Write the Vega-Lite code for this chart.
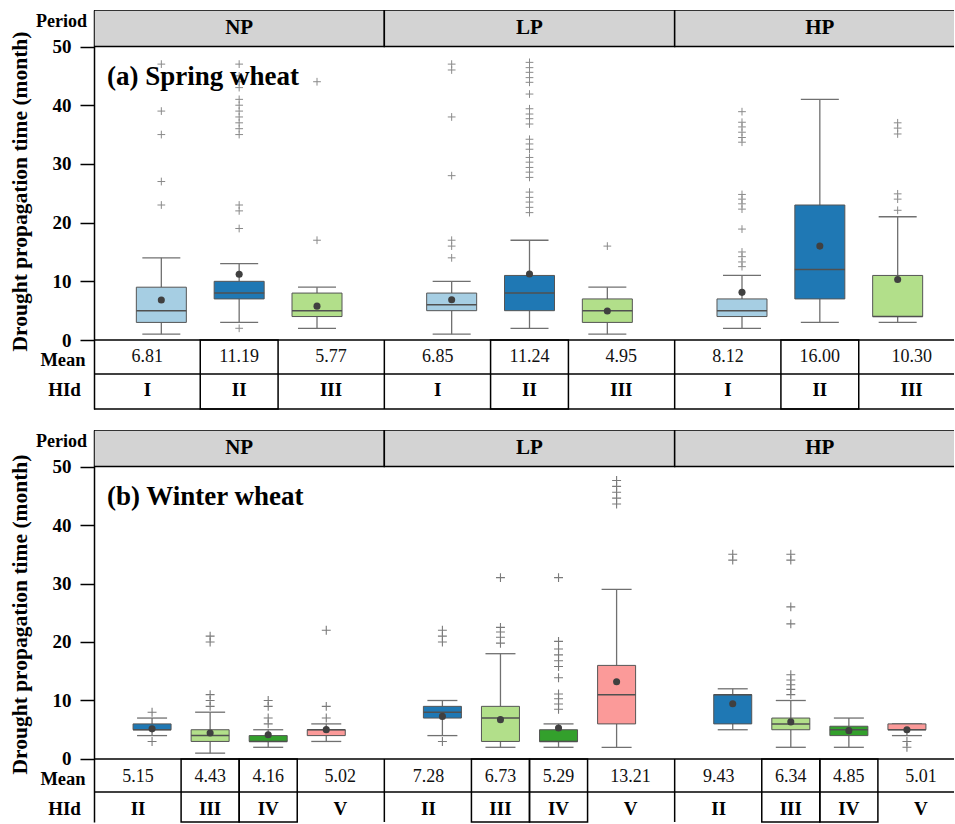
{
"$schema":"https://vega.github.io/schema/vega-lite/v6.json",
"padding":{"left":8,"top":10,"right":0,"bottom":0},
"config":{"view":{"stroke":null},"font":"Liberation Serif"},
"datasets":{
"periods":[{"Period":"NP"},{"Period":"LP"},{"Period":"HP"}],
"rowlabels":[{"row":"Period"},{"row":"Mean"},{"row":"HId"}],
"boxes":[
{"panel":"a","Period":"NP","HId":"I","lower":1,"q1":3,"median":5,"q3":9,"upper":14,"mean":6.81},
{"panel":"a","Period":"NP","HId":"II","lower":3,"q1":7,"median":8,"q3":10,"upper":13,"mean":11.19},
{"panel":"a","Period":"NP","HId":"III","lower":2,"q1":4,"median":5,"q3":8,"upper":9,"mean":5.77},
{"panel":"a","Period":"LP","HId":"I","lower":1,"q1":5,"median":6,"q3":8,"upper":10,"mean":6.85},
{"panel":"a","Period":"LP","HId":"II","lower":2,"q1":5,"median":8,"q3":11,"upper":17,"mean":11.24},
{"panel":"a","Period":"LP","HId":"III","lower":1,"q1":3,"median":5,"q3":7,"upper":9,"mean":4.95},
{"panel":"a","Period":"HP","HId":"I","lower":2,"q1":4,"median":5,"q3":7,"upper":11,"mean":8.12},
{"panel":"a","Period":"HP","HId":"II","lower":3,"q1":7,"median":12,"q3":23,"upper":41,"mean":16.00},
{"panel":"a","Period":"HP","HId":"III","lower":3,"q1":4,"median":4,"q3":11,"upper":21,"mean":10.30},
{"panel":"b","Period":"NP","HId":"II","lower":4,"q1":5,"median":5,"q3":6,"upper":7,"mean":5.15},
{"panel":"b","Period":"NP","HId":"III","lower":1,"q1":3,"median":4,"q3":5,"upper":8,"mean":4.43},
{"panel":"b","Period":"NP","HId":"IV","lower":2,"q1":3,"median":3,"q3":4,"upper":5,"mean":4.16},
{"panel":"b","Period":"NP","HId":"V","lower":3,"q1":4,"median":5,"q3":5,"upper":6,"mean":5.02},
{"panel":"b","Period":"LP","HId":"II","lower":4,"q1":7,"median":8,"q3":9,"upper":10,"mean":7.28},
{"panel":"b","Period":"LP","HId":"III","lower":2,"q1":3,"median":7,"q3":9,"upper":18,"mean":6.73},
{"panel":"b","Period":"LP","HId":"IV","lower":2,"q1":3,"median":3,"q3":5,"upper":6,"mean":5.29},
{"panel":"b","Period":"LP","HId":"V","lower":2,"q1":6,"median":11,"q3":16,"upper":29,"mean":13.21},
{"panel":"b","Period":"HP","HId":"II","lower":5,"q1":6,"median":11,"q3":11,"upper":12,"mean":9.43},
{"panel":"b","Period":"HP","HId":"III","lower":2,"q1":5,"median":6,"q3":7,"upper":10,"mean":6.34},
{"panel":"b","Period":"HP","HId":"IV","lower":2,"q1":4,"median":5,"q3":5.6,"upper":7,"mean":4.85},
{"panel":"b","Period":"HP","HId":"V","lower":4,"q1":5,"median":5,"q3":6,"upper":6,"mean":5.01}
],
"outliers":[
{"panel":"a","Period":"NP","HId":"I","value":23},{"panel":"a","Period":"NP","HId":"I","value":27},{"panel":"a","Period":"NP","HId":"I","value":35},{"panel":"a","Period":"NP","HId":"I","value":39},{"panel":"a","Period":"NP","HId":"I","value":47},
{"panel":"a","Period":"NP","HId":"II","value":2},{"panel":"a","Period":"NP","HId":"II","value":19},{"panel":"a","Period":"NP","HId":"II","value":22},{"panel":"a","Period":"NP","HId":"II","value":23},{"panel":"a","Period":"NP","HId":"II","value":35},{"panel":"a","Period":"NP","HId":"II","value":36},{"panel":"a","Period":"NP","HId":"II","value":37},{"panel":"a","Period":"NP","HId":"II","value":38},{"panel":"a","Period":"NP","HId":"II","value":39},{"panel":"a","Period":"NP","HId":"II","value":40},{"panel":"a","Period":"NP","HId":"II","value":41},{"panel":"a","Period":"NP","HId":"II","value":43},{"panel":"a","Period":"NP","HId":"II","value":44},{"panel":"a","Period":"NP","HId":"II","value":45},{"panel":"a","Period":"NP","HId":"II","value":47},
{"panel":"a","Period":"NP","HId":"III","value":17},{"panel":"a","Period":"NP","HId":"III","value":44},
{"panel":"a","Period":"LP","HId":"I","value":14},{"panel":"a","Period":"LP","HId":"I","value":16},{"panel":"a","Period":"LP","HId":"I","value":17},{"panel":"a","Period":"LP","HId":"I","value":28},{"panel":"a","Period":"LP","HId":"I","value":38},{"panel":"a","Period":"LP","HId":"I","value":46},{"panel":"a","Period":"LP","HId":"I","value":47},
{"panel":"a","Period":"LP","HId":"II","value":21.7},{"panel":"a","Period":"LP","HId":"II","value":22.6},{"panel":"a","Period":"LP","HId":"II","value":23.5},{"panel":"a","Period":"LP","HId":"II","value":24.3},{"panel":"a","Period":"LP","HId":"II","value":25.2},{"panel":"a","Period":"LP","HId":"II","value":27.7},{"panel":"a","Period":"LP","HId":"II","value":28.6},{"panel":"a","Period":"LP","HId":"II","value":29.4},{"panel":"a","Period":"LP","HId":"II","value":30.3},{"panel":"a","Period":"LP","HId":"II","value":31.1},{"panel":"a","Period":"LP","HId":"II","value":32.5},{"panel":"a","Period":"LP","HId":"II","value":33.4},{"panel":"a","Period":"LP","HId":"II","value":34.2},{"panel":"a","Period":"LP","HId":"II","value":36.8},{"panel":"a","Period":"LP","HId":"II","value":37.7},{"panel":"a","Period":"LP","HId":"II","value":38.5},{"panel":"a","Period":"LP","HId":"II","value":39.4},{"panel":"a","Period":"LP","HId":"II","value":41.9},{"panel":"a","Period":"LP","HId":"II","value":43.9},{"panel":"a","Period":"LP","HId":"II","value":44.7},{"panel":"a","Period":"LP","HId":"II","value":45.6},{"panel":"a","Period":"LP","HId":"II","value":46.4},{"panel":"a","Period":"LP","HId":"II","value":47.3},
{"panel":"a","Period":"LP","HId":"III","value":16},
{"panel":"a","Period":"HP","HId":"I","value":12.5},{"panel":"a","Period":"HP","HId":"I","value":13.3},{"panel":"a","Period":"HP","HId":"I","value":14.2},{"panel":"a","Period":"HP","HId":"I","value":15},{"panel":"a","Period":"HP","HId":"I","value":18.9},{"panel":"a","Period":"HP","HId":"I","value":22.3},{"panel":"a","Period":"HP","HId":"I","value":23.2},{"panel":"a","Period":"HP","HId":"I","value":24},{"panel":"a","Period":"HP","HId":"I","value":24.8},{"panel":"a","Period":"HP","HId":"I","value":33.7},{"panel":"a","Period":"HP","HId":"I","value":34.5},{"panel":"a","Period":"HP","HId":"I","value":35.4},{"panel":"a","Period":"HP","HId":"I","value":36.3},{"panel":"a","Period":"HP","HId":"I","value":37.1},{"panel":"a","Period":"HP","HId":"I","value":38.9},
{"panel":"a","Period":"HP","HId":"III","value":22.1},{"panel":"a","Period":"HP","HId":"III","value":24},{"panel":"a","Period":"HP","HId":"III","value":24.9},{"panel":"a","Period":"HP","HId":"III","value":35.1},{"panel":"a","Period":"HP","HId":"III","value":36.1},{"panel":"a","Period":"HP","HId":"III","value":37},
{"panel":"b","Period":"NP","HId":"II","value":3},{"panel":"b","Period":"NP","HId":"II","value":8},
{"panel":"b","Period":"NP","HId":"III","value":9},{"panel":"b","Period":"NP","HId":"III","value":10},{"panel":"b","Period":"NP","HId":"III","value":11},{"panel":"b","Period":"NP","HId":"III","value":20},{"panel":"b","Period":"NP","HId":"III","value":21},
{"panel":"b","Period":"NP","HId":"IV","value":6},{"panel":"b","Period":"NP","HId":"IV","value":7},{"panel":"b","Period":"NP","HId":"IV","value":9},{"panel":"b","Period":"NP","HId":"IV","value":10},
{"panel":"b","Period":"NP","HId":"V","value":7},{"panel":"b","Period":"NP","HId":"V","value":9},{"panel":"b","Period":"NP","HId":"V","value":22},
{"panel":"b","Period":"LP","HId":"II","value":3},{"panel":"b","Period":"LP","HId":"II","value":20},{"panel":"b","Period":"LP","HId":"II","value":21},{"panel":"b","Period":"LP","HId":"II","value":22},
{"panel":"b","Period":"LP","HId":"III","value":19.8},{"panel":"b","Period":"LP","HId":"III","value":20.8},{"panel":"b","Period":"LP","HId":"III","value":21.7},{"panel":"b","Period":"LP","HId":"III","value":22.5},{"panel":"b","Period":"LP","HId":"III","value":31},
{"panel":"b","Period":"LP","HId":"IV","value":8.5},{"panel":"b","Period":"LP","HId":"IV","value":9.4},{"panel":"b","Period":"LP","HId":"IV","value":10.3},{"panel":"b","Period":"LP","HId":"IV","value":11.1},{"panel":"b","Period":"LP","HId":"IV","value":13.9},{"panel":"b","Period":"LP","HId":"IV","value":15.8},{"panel":"b","Period":"LP","HId":"IV","value":16.8},{"panel":"b","Period":"LP","HId":"IV","value":17.8},{"panel":"b","Period":"LP","HId":"IV","value":18.8},{"panel":"b","Period":"LP","HId":"IV","value":20.1},{"panel":"b","Period":"LP","HId":"IV","value":31},
{"panel":"b","Period":"LP","HId":"V","value":43.6},{"panel":"b","Period":"LP","HId":"V","value":44.6},{"panel":"b","Period":"LP","HId":"V","value":45.6},{"panel":"b","Period":"LP","HId":"V","value":46.6},{"panel":"b","Period":"LP","HId":"V","value":47.6},
{"panel":"b","Period":"HP","HId":"II","value":34},{"panel":"b","Period":"HP","HId":"II","value":35},
{"panel":"b","Period":"HP","HId":"III","value":11},{"panel":"b","Period":"HP","HId":"III","value":11.9},{"panel":"b","Period":"HP","HId":"III","value":12.7},{"panel":"b","Period":"HP","HId":"III","value":13.5},{"panel":"b","Period":"HP","HId":"III","value":14.4},{"panel":"b","Period":"HP","HId":"III","value":23.1},{"panel":"b","Period":"HP","HId":"III","value":26},{"panel":"b","Period":"HP","HId":"III","value":34},{"panel":"b","Period":"HP","HId":"III","value":35},
{"panel":"b","Period":"HP","HId":"V","value":2},{"panel":"b","Period":"HP","HId":"V","value":3}
]},
"spacing":21,
"bounds":"flush",
"resolve":{"scale":{"x":"independent","y":"independent","xOffset":"independent","color":"shared"}},
"vconcat":[
{
"width":860,"height":399,
"layer":[
{"data":{"name":"periods"},"mark":{"type":"bar","fill":"#d3d3d3","stroke":"#000","strokeWidth":1.5,"clip":true},
 "encoding":{"x":{"field":"Period","type":"nominal","scale":{"domain":["NP","LP","HP"],"range":[0,871],"paddingInner":0,"paddingOuter":0},"axis":null},
 "y":{"datum":56.22,"type":"quantitative","scale":{"domain":[-11.75,56.22],"nice":false,"zero":false}},"y2":{"datum":50}}},
{"data":{"name":"periods"},"mark":{"type":"text","font":"Liberation Serif","fontWeight":"bold","fontSize":21,"color":"#000"},
 "encoding":{"x":{"field":"Period","type":"nominal","scale":{"domain":["NP","LP","HP"],"range":[0,871],"paddingInner":0,"paddingOuter":0},"axis":null},
 "y":{"datum":53.1,"type":"quantitative"},"text":{"field":"Period"}}},
{"data":{"values":[{}]},"mark":{"type":"rule","color":"#000","strokeWidth":1.5},"encoding":{"y":{"datum":0,"type":"quantitative"}}},
{"data":{"values":[{}]},"mark":{"type":"rule","color":"#000","strokeWidth":1.5},"encoding":{"y":{"datum":-5.79,"type":"quantitative"}}},
{"data":{"values":[{}]},"mark":{"type":"rule","color":"#000","strokeWidth":1.5},"encoding":{"y":{"datum":-11.75,"type":"quantitative"}}},
{"data":{"name":"periods"},"transform":[{"filter":"datum.Period != 'NP'"}],"mark":{"type":"rule","color":"#000","strokeWidth":1.5},
 "encoding":{"x":{"field":"Period","type":"nominal","bandPosition":0,"scale":{"domain":["NP","LP","HP"],"range":[0,871],"paddingInner":0,"paddingOuter":0},"axis":null},
 "y":{"datum":0,"type":"quantitative"},"y2":{"datum":-11.75}}},
{"data":{"name":"boxes"},"transform":[{"filter":"datum.panel == 'a' && datum.HId == 'II'"}],"mark":{"type":"bar","fill":"transparent","stroke":"#000","strokeWidth":1.5},
 "encoding":{"x":{"field":"Period","type":"nominal","scale":{"domain":["NP","LP","HP"],"range":[0,871],"paddingInner":0,"paddingOuter":0},"axis":null},
 "xOffset":{"field":"HId","type":"nominal","scale":{"domain":["I","II","III"],"paddingInner":0,"paddingOuter":0.365}},
 "y":{"datum":0,"type":"quantitative"},"y2":{"datum":-11.75}}},
{"data":{"name":"boxes"},"transform":[{"filter":"datum.panel == 'a'"}],"mark":{"type":"text","font":"Liberation Serif","fontSize":18,"color":"#111","dx":{"expr":"datum.HId == 'I' ? -14 : datum.HId == 'III' ? 14 : 0"}},
 "encoding":{"x":{"field":"Period","type":"nominal","scale":{"domain":["NP","LP","HP"],"range":[0,871],"paddingInner":0,"paddingOuter":0},"axis":null},
 "xOffset":{"field":"HId","type":"nominal","scale":{"domain":["I","II","III"],"paddingInner":0,"paddingOuter":0.365}},
 "y":{"datum":-2.85,"type":"quantitative"},"text":{"field":"mean","type":"quantitative","format":".2f"}}},
{"data":{"name":"boxes"},"transform":[{"filter":"datum.panel == 'a'"}],"mark":{"type":"text","font":"Liberation Serif","fontSize":19,"fontWeight":"bold","color":"#000","dx":{"expr":"datum.HId == 'I' ? -14 : datum.HId == 'III' ? 14 : 0"}},
 "encoding":{"x":{"field":"Period","type":"nominal","scale":{"domain":["NP","LP","HP"],"range":[0,871],"paddingInner":0,"paddingOuter":0},"axis":null},
 "xOffset":{"field":"HId","type":"nominal","scale":{"domain":["I","II","III"],"paddingInner":0,"paddingOuter":0.365}},
 "y":{"datum":-8.5,"type":"quantitative"},"text":{"field":"HId"}}},
{"data":{"name":"boxes"},"transform":[{"filter":"datum.panel == 'a'"}],"mark":{"type":"rule","color":"#707070","strokeWidth":1.3},
 "encoding":{"x":{"field":"Period","type":"nominal","scale":{"domain":["NP","LP","HP"],"range":[0,871],"paddingInner":0,"paddingOuter":0},"axis":null},
 "xOffset":{"field":"HId","type":"nominal","scale":{"domain":["I","II","III"],"paddingInner":0,"paddingOuter":0.365}},
 "y":{"field":"lower","type":"quantitative","scale":{"domain":[-11.75,56.22],"nice":false,"zero":false},
  "axis":{"title":"Drought propagation time (month)","titleFont":"Liberation Serif","titleFontSize":21.5,"titleFontWeight":"bold","titleColor":"#000","titleAngle":-90,"titleX":-74,"titleY":181,"titleAlign":"center","titleBaseline":"middle",
   "values":[0,5,10,15,20,25,30,35,40,45,50],
   "labelExpr":"datum.value % 10 == 0 ? datum.label : ''",
   "labelOverlap":false,"labelFlush":false,"labelBound":false,"labelFont":"Liberation Serif","labelFontWeight":"bold","labelColor":"#000","labelFontSize":19,"labelPadding":9,
   "tickSize":{"condition":{"test":"datum.value % 10 != 0","value":8},"value":14},
   "tickColor":"#000","tickWidth":1.5,"domainColor":"#000","domainWidth":1.5,"grid":false}},
 "y2":{"field":"q1"}}},
{"data":{"name":"boxes"},"transform":[{"filter":"datum.panel == 'a'"}],"mark":{"type":"rule","color":"#707070","strokeWidth":1.3},
 "encoding":{"x":{"field":"Period","type":"nominal","scale":{"domain":["NP","LP","HP"],"range":[0,871],"paddingInner":0,"paddingOuter":0},"axis":null},
 "xOffset":{"field":"HId","type":"nominal","scale":{"domain":["I","II","III"],"paddingInner":0,"paddingOuter":0.365}},
 "y":{"field":"q3","type":"quantitative"},"y2":{"field":"upper"}}},
{"data":{"name":"boxes"},"transform":[{"filter":"datum.panel == 'a'"}],"mark":{"type":"tick","color":"#707070","thickness":1.3,"size":38,"opacity":1},
 "encoding":{"x":{"field":"Period","type":"nominal","scale":{"domain":["NP","LP","HP"],"range":[0,871],"paddingInner":0,"paddingOuter":0},"axis":null},
 "xOffset":{"field":"HId","type":"nominal","scale":{"domain":["I","II","III"],"paddingInner":0,"paddingOuter":0.365}},
 "y":{"field":"lower","type":"quantitative"}}},
{"data":{"name":"boxes"},"transform":[{"filter":"datum.panel == 'a'"}],"mark":{"type":"tick","color":"#707070","thickness":1.3,"size":38,"opacity":1},
 "encoding":{"x":{"field":"Period","type":"nominal","scale":{"domain":["NP","LP","HP"],"range":[0,871],"paddingInner":0,"paddingOuter":0},"axis":null},
 "xOffset":{"field":"HId","type":"nominal","scale":{"domain":["I","II","III"],"paddingInner":0,"paddingOuter":0.365}},
 "y":{"field":"upper","type":"quantitative"}}},
{"data":{"name":"boxes"},"transform":[{"filter":"datum.panel == 'a'"}],"mark":{"type":"bar","width":50,"stroke":"#555","strokeWidth":1,"opacity":1},
 "encoding":{"x":{"field":"Period","type":"nominal","scale":{"domain":["NP","LP","HP"],"range":[0,871],"paddingInner":0,"paddingOuter":0},"axis":null},
 "xOffset":{"field":"HId","type":"nominal","scale":{"domain":["I","II","III"],"paddingInner":0,"paddingOuter":0.365}},
 "y":{"field":"q1","type":"quantitative"},"y2":{"field":"q3"},
 "color":{"field":"HId","type":"nominal","scale":{"domain":["I","II","III","IV","V"],"range":["#a6cee3","#1f78b4","#b2df8a","#33a02c","#fb9a99"]},"legend":null}}},
{"data":{"name":"boxes"},"transform":[{"filter":"datum.panel == 'a'"}],"mark":{"type":"tick","color":"#505050","thickness":1.5,"size":50,"opacity":1},
 "encoding":{"x":{"field":"Period","type":"nominal","scale":{"domain":["NP","LP","HP"],"range":[0,871],"paddingInner":0,"paddingOuter":0},"axis":null},
 "xOffset":{"field":"HId","type":"nominal","scale":{"domain":["I","II","III"],"paddingInner":0,"paddingOuter":0.365}},
 "y":{"field":"median","type":"quantitative"}}},
{"data":{"name":"outliers"},"transform":[{"filter":"datum.panel == 'a'"}],"mark":{"type":"point","shape":"M-1,0L1,0M0,-1L0,1","filled":false,"color":"#8a8a8a","strokeWidth":1,"size":60,"opacity":1},
 "encoding":{"x":{"field":"Period","type":"nominal","scale":{"domain":["NP","LP","HP"],"range":[0,871],"paddingInner":0,"paddingOuter":0},"axis":null},
 "xOffset":{"field":"HId","type":"nominal","scale":{"domain":["I","II","III"],"paddingInner":0,"paddingOuter":0.365}},
 "y":{"field":"value","type":"quantitative"}}},
{"data":{"name":"boxes"},"transform":[{"filter":"datum.panel == 'a'"}],"mark":{"type":"point","shape":"circle","filled":true,"color":"#404040","size":50,"opacity":1},
 "encoding":{"x":{"field":"Period","type":"nominal","scale":{"domain":["NP","LP","HP"],"range":[0,871],"paddingInner":0,"paddingOuter":0},"axis":null},
 "xOffset":{"field":"HId","type":"nominal","scale":{"domain":["I","II","III"],"paddingInner":0,"paddingOuter":0.365}},
 "y":{"field":"mean","type":"quantitative"}}},
{"data":{"values":[{"label":"(a) Spring wheat"}]},"mark":{"type":"text","align":"left","baseline":"alphabetic","fontSize":27,"fontWeight":"bold","font":"Liberation Serif","dx":13,"color":"#000"},
 "encoding":{"x":{"datum":"NP","type":"nominal","bandPosition":0},"y":{"datum":43.4,"type":"quantitative"},"text":{"field":"label"}}},
{"data":{"name":"rowlabels"},"transform":[{"filter":"datum.row == 'Period'"}],"mark":{"type":"text","font":"Liberation Serif","fontWeight":"bold","fontSize":18,"color":"#000","align":"center","dx":-32.5},
 "encoding":{"x":{"datum":"NP","type":"nominal","bandPosition":0},"y":{"datum":54.1,"type":"quantitative"},"text":{"field":"row"}}},
{"data":{"name":"rowlabels"},"transform":[{"filter":"datum.row == 'Mean'"}],"mark":{"type":"text","font":"Liberation Serif","fontWeight":"bold","fontSize":18.5,"color":"#000","align":"center","dx":-31},
 "encoding":{"x":{"datum":"NP","type":"nominal","bandPosition":0},"y":{"datum":-3.4,"type":"quantitative"},"text":{"field":"row"}}},
{"data":{"name":"rowlabels"},"transform":[{"filter":"datum.row == 'HId'"}],"mark":{"type":"text","font":"Liberation Serif","fontWeight":"bold","fontSize":19,"color":"#000","align":"center","dx":-29.5},
 "encoding":{"x":{"datum":"NP","type":"nominal","bandPosition":0},"y":{"datum":-8.5,"type":"quantitative"},"text":{"field":"row"}}}
]
},
{
"width":860,"height":392,
"layer":[
{"data":{"name":"periods"},"mark":{"type":"bar","fill":"#d3d3d3","stroke":"#000","strokeWidth":1.5,"clip":true},
 "encoding":{"x":{"field":"Period","type":"nominal","scale":{"domain":["NP","LP","HP"],"range":[0,871],"paddingInner":0,"paddingOuter":0},"axis":null},
 "y":{"datum":56.24,"type":"quantitative","scale":{"domain":[-10.77,56.24],"nice":false,"zero":false}},"y2":{"datum":50}}},
{"data":{"name":"periods"},"mark":{"type":"text","font":"Liberation Serif","fontWeight":"bold","fontSize":21,"color":"#000"},
 "encoding":{"x":{"field":"Period","type":"nominal","scale":{"domain":["NP","LP","HP"],"range":[0,871],"paddingInner":0,"paddingOuter":0},"axis":null},
 "y":{"datum":53.12,"type":"quantitative"},"text":{"field":"Period"}}},
{"data":{"values":[{}]},"mark":{"type":"rule","color":"#000","strokeWidth":1.5},"encoding":{"y":{"datum":0,"type":"quantitative"}}},
{"data":{"values":[{}]},"mark":{"type":"rule","color":"#000","strokeWidth":1.5},"encoding":{"y":{"datum":-5.64,"type":"quantitative"}}},
{"data":{"name":"periods"},"transform":[{"filter":"datum.Period != 'NP'"}],"mark":{"type":"rule","color":"#000","strokeWidth":1.5},
 "encoding":{"x":{"field":"Period","type":"nominal","bandPosition":0,"scale":{"domain":["NP","LP","HP"],"range":[0,871],"paddingInner":0,"paddingOuter":0},"axis":null},
 "y":{"datum":0,"type":"quantitative"},"y2":{"datum":-10.77}}},
{"data":{"name":"boxes"},"transform":[{"filter":"datum.panel == 'b' && (datum.HId == 'III' || datum.HId == 'IV')"}],"mark":{"type":"bar","fill":"transparent","stroke":"#000","strokeWidth":1.5},
 "encoding":{"x":{"field":"Period","type":"nominal","scale":{"domain":["NP","LP","HP"],"range":[0,871],"paddingInner":0,"paddingOuter":0},"axis":null},
 "xOffset":{"field":"HId","type":"nominal","scale":{"domain":["II","III","IV","V"],"paddingInner":0,"paddingOuter":0.5}},
 "y":{"datum":0,"type":"quantitative"},"y2":{"datum":-10.77}}},
{"data":{"name":"boxes"},"transform":[{"filter":"datum.panel == 'b'"}],"mark":{"type":"text","font":"Liberation Serif","fontSize":18,"color":"#111","dx":{"expr":"datum.HId == 'II' ? -14 : datum.HId == 'V' ? 14 : 0"}},
 "encoding":{"x":{"field":"Period","type":"nominal","scale":{"domain":["NP","LP","HP"],"range":[0,871],"paddingInner":0,"paddingOuter":0},"axis":null},
 "xOffset":{"field":"HId","type":"nominal","scale":{"domain":["II","III","IV","V"],"paddingInner":0,"paddingOuter":0.5}},
 "y":{"datum":-3.0,"type":"quantitative"},"text":{"field":"mean","type":"quantitative","format":".2f"}}},
{"data":{"name":"boxes"},"transform":[{"filter":"datum.panel == 'b'"}],"mark":{"type":"text","font":"Liberation Serif","fontSize":19,"fontWeight":"bold","color":"#000","dx":{"expr":"datum.HId == 'II' ? -14 : datum.HId == 'V' ? 14 : 0"}},
 "encoding":{"x":{"field":"Period","type":"nominal","scale":{"domain":["NP","LP","HP"],"range":[0,871],"paddingInner":0,"paddingOuter":0},"axis":null},
 "xOffset":{"field":"HId","type":"nominal","scale":{"domain":["II","III","IV","V"],"paddingInner":0,"paddingOuter":0.5}},
 "y":{"datum":-8.55,"type":"quantitative"},"text":{"field":"HId"}}},
{"data":{"name":"boxes"},"transform":[{"filter":"datum.panel == 'b'"}],"mark":{"type":"rule","color":"#707070","strokeWidth":1.3},
 "encoding":{"x":{"field":"Period","type":"nominal","scale":{"domain":["NP","LP","HP"],"range":[0,871],"paddingInner":0,"paddingOuter":0},"axis":null},
 "xOffset":{"field":"HId","type":"nominal","scale":{"domain":["II","III","IV","V"],"paddingInner":0,"paddingOuter":0.5}},
 "y":{"field":"lower","type":"quantitative","scale":{"domain":[-10.77,56.24],"nice":false,"zero":false},
  "axis":{"title":"Drought propagation time (month)","titleFont":"Liberation Serif","titleFontSize":21.5,"titleFontWeight":"bold","titleColor":"#000","titleAngle":-90,"titleX":-74,"titleY":184,"titleAlign":"center","titleBaseline":"middle",
   "values":[0,5,10,15,20,25,30,35,40,45,50],
   "labelExpr":"datum.value % 10 == 0 ? datum.label : ''",
   "labelOverlap":false,"labelFlush":false,"labelBound":false,"labelFont":"Liberation Serif","labelFontWeight":"bold","labelColor":"#000","labelFontSize":19,"labelPadding":9,
   "tickSize":{"condition":{"test":"datum.value % 10 != 0","value":8},"value":14},
   "tickColor":"#000","tickWidth":1.5,"domainColor":"#000","domainWidth":1.5,"grid":false}},
 "y2":{"field":"q1"}}},
{"data":{"name":"boxes"},"transform":[{"filter":"datum.panel == 'b'"}],"mark":{"type":"rule","color":"#707070","strokeWidth":1.3},
 "encoding":{"x":{"field":"Period","type":"nominal","scale":{"domain":["NP","LP","HP"],"range":[0,871],"paddingInner":0,"paddingOuter":0},"axis":null},
 "xOffset":{"field":"HId","type":"nominal","scale":{"domain":["II","III","IV","V"],"paddingInner":0,"paddingOuter":0.5}},
 "y":{"field":"q3","type":"quantitative"},"y2":{"field":"upper"}}},
{"data":{"name":"boxes"},"transform":[{"filter":"datum.panel == 'b'"}],"mark":{"type":"tick","color":"#707070","thickness":1.3,"size":30,"opacity":1},
 "encoding":{"x":{"field":"Period","type":"nominal","scale":{"domain":["NP","LP","HP"],"range":[0,871],"paddingInner":0,"paddingOuter":0},"axis":null},
 "xOffset":{"field":"HId","type":"nominal","scale":{"domain":["II","III","IV","V"],"paddingInner":0,"paddingOuter":0.5}},
 "y":{"field":"lower","type":"quantitative"}}},
{"data":{"name":"boxes"},"transform":[{"filter":"datum.panel == 'b'"}],"mark":{"type":"tick","color":"#707070","thickness":1.3,"size":30,"opacity":1},
 "encoding":{"x":{"field":"Period","type":"nominal","scale":{"domain":["NP","LP","HP"],"range":[0,871],"paddingInner":0,"paddingOuter":0},"axis":null},
 "xOffset":{"field":"HId","type":"nominal","scale":{"domain":["II","III","IV","V"],"paddingInner":0,"paddingOuter":0.5}},
 "y":{"field":"upper","type":"quantitative"}}},
{"data":{"name":"boxes"},"transform":[{"filter":"datum.panel == 'b'"}],"mark":{"type":"bar","width":38,"stroke":"#555","strokeWidth":1,"opacity":1},
 "encoding":{"x":{"field":"Period","type":"nominal","scale":{"domain":["NP","LP","HP"],"range":[0,871],"paddingInner":0,"paddingOuter":0},"axis":null},
 "xOffset":{"field":"HId","type":"nominal","scale":{"domain":["II","III","IV","V"],"paddingInner":0,"paddingOuter":0.5}},
 "y":{"field":"q1","type":"quantitative"},"y2":{"field":"q3"},
 "color":{"field":"HId","type":"nominal","scale":{"domain":["I","II","III","IV","V"],"range":["#a6cee3","#1f78b4","#b2df8a","#33a02c","#fb9a99"]},"legend":null}}},
{"data":{"name":"boxes"},"transform":[{"filter":"datum.panel == 'b'"}],"mark":{"type":"tick","color":"#505050","thickness":1.5,"size":38,"opacity":1},
 "encoding":{"x":{"field":"Period","type":"nominal","scale":{"domain":["NP","LP","HP"],"range":[0,871],"paddingInner":0,"paddingOuter":0},"axis":null},
 "xOffset":{"field":"HId","type":"nominal","scale":{"domain":["II","III","IV","V"],"paddingInner":0,"paddingOuter":0.5}},
 "y":{"field":"median","type":"quantitative"}}},
{"data":{"name":"outliers"},"transform":[{"filter":"datum.panel == 'b'"}],"mark":{"type":"point","shape":"M-1,0L1,0M0,-1L0,1","filled":false,"color":"#7a7a7a","strokeWidth":1.1,"size":80,"opacity":1},
 "encoding":{"x":{"field":"Period","type":"nominal","scale":{"domain":["NP","LP","HP"],"range":[0,871],"paddingInner":0,"paddingOuter":0},"axis":null},
 "xOffset":{"field":"HId","type":"nominal","scale":{"domain":["II","III","IV","V"],"paddingInner":0,"paddingOuter":0.5}},
 "y":{"field":"value","type":"quantitative"}}},
{"data":{"name":"boxes"},"transform":[{"filter":"datum.panel == 'b'"}],"mark":{"type":"point","shape":"circle","filled":true,"color":"#404040","size":50,"opacity":1},
 "encoding":{"x":{"field":"Period","type":"nominal","scale":{"domain":["NP","LP","HP"],"range":[0,871],"paddingInner":0,"paddingOuter":0},"axis":null},
 "xOffset":{"field":"HId","type":"nominal","scale":{"domain":["II","III","IV","V"],"paddingInner":0,"paddingOuter":0.5}},
 "y":{"field":"mean","type":"quantitative"}}},
{"data":{"values":[{"label":"(b) Winter wheat"}]},"mark":{"type":"text","align":"left","baseline":"alphabetic","fontSize":27,"fontWeight":"bold","font":"Liberation Serif","dx":13,"color":"#000"},
 "encoding":{"x":{"datum":"NP","type":"nominal","bandPosition":0},"y":{"datum":43.4,"type":"quantitative"},"text":{"field":"label"}}},
{"data":{"name":"rowlabels"},"transform":[{"filter":"datum.row == 'Period'"}],"mark":{"type":"text","font":"Liberation Serif","fontWeight":"bold","fontSize":18,"color":"#000","align":"center","dx":-32.5},
 "encoding":{"x":{"datum":"NP","type":"nominal","bandPosition":0},"y":{"datum":54.2,"type":"quantitative"},"text":{"field":"row"}}},
{"data":{"name":"rowlabels"},"transform":[{"filter":"datum.row == 'Mean'"}],"mark":{"type":"text","font":"Liberation Serif","fontWeight":"bold","fontSize":18.5,"color":"#000","align":"center","dx":-31},
 "encoding":{"x":{"datum":"NP","type":"nominal","bandPosition":0},"y":{"datum":-3.45,"type":"quantitative"},"text":{"field":"row"}}},
{"data":{"name":"rowlabels"},"transform":[{"filter":"datum.row == 'HId'"}],"mark":{"type":"text","font":"Liberation Serif","fontWeight":"bold","fontSize":19,"color":"#000","align":"center","dx":-29.5},
 "encoding":{"x":{"datum":"NP","type":"nominal","bandPosition":0},"y":{"datum":-8.55,"type":"quantitative"},"text":{"field":"row"}}}
]
}
]
}
